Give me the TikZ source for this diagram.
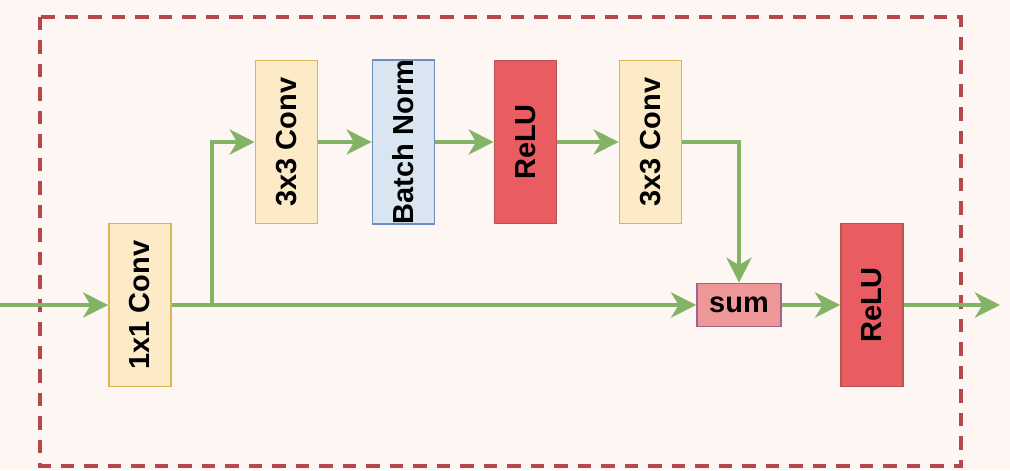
\documentclass[tikz,border=0pt]{standalone}
\usepackage{fontspec}
\setmainfont{Liberation Sans}
\usetikzlibrary{arrows.meta}
\definecolor{bgcol}{HTML}{FDF6F2}
\definecolor{framecol}{HTML}{B5484C}
\definecolor{flowcol}{HTML}{82B366}
\definecolor{convfill}{HTML}{FDEBC8}
\definecolor{convdraw}{HTML}{D6B656}
\definecolor{bnfill}{HTML}{DAE5F2}
\definecolor{bndraw}{HTML}{6C8EBF}
\definecolor{relufill}{HTML}{E85C62}
\definecolor{reludraw}{HTML}{B85450}
\definecolor{sumfill}{HTML}{EE9799}
\definecolor{sumdraw}{HTML}{A0648C}
\begin{document}
\begin{tikzpicture}[x=0.02cm,y=-0.02cm,
  >={Stealth[length=0.5cm,width=0.5cm,inset=0.15cm]},
  blk/.style={draw,line width=1pt,inner sep=0pt,minimum width=1.24cm,minimum height=3.26cm,
    font=\fontsize{16.5}{18}\selectfont\bfseries},
  conv/.style={blk,fill=convfill,draw=convdraw},
  bnorm/.style={blk,fill=bnfill,draw=bndraw},
  relu/.style={blk,fill=relufill,draw=reludraw},
  flow/.style={draw=flowcol,line width=2.4pt}]
\fill[bgcol](0,0) rectangle (1010,470);
\useasboundingbox (0,0) rectangle (1010,470);
\draw[framecol,line width=0.09cm,dash pattern=on 0.27cm off 0.2cm](40,17) rectangle (961,466);
% blocks
\node[conv](conva) at (140,305) {\rotatebox{90}{1x1 Conv}};
\node[conv](convb) at (286.5,142) {\rotatebox{90}{3x3 Conv}};
\node[bnorm](bn) at (403.5,142) {\rotatebox{90}{Batch Norm}};
\node[relu](relua) at (525.5,142) {\rotatebox{90}{ReLU}};
\node[conv](convc) at (650.5,142) {\rotatebox{90}{3x3 Conv}};
\node[draw=sumdraw,fill=sumfill,line width=1pt,minimum width=1.68cm,minimum height=0.86cm,
  font=\fontsize{16.5}{18}\selectfont\bfseries](sum) at (739,305) {sum};
\node[relu](relub) at (872,305) {\rotatebox{90}{ReLU}};
\coordinate (in) at (0,305);
\coordinate (split) at (212,305);
\coordinate (out) at (1000,305);
% connectors
\draw[flow,->](in)--(conva);
\draw[flow,->](conva)--(sum);
\draw[flow,->](split)|-(convb);
\draw[flow,->](convb)--(bn);
\draw[flow,->](bn)--(relua);
\draw[flow,->](relua)--(convc);
\draw[flow,->](convc)-|(sum);
\draw[flow,->](sum)--(relub);
\draw[flow,->](relub)--(out);
\end{tikzpicture}
\end{document}
